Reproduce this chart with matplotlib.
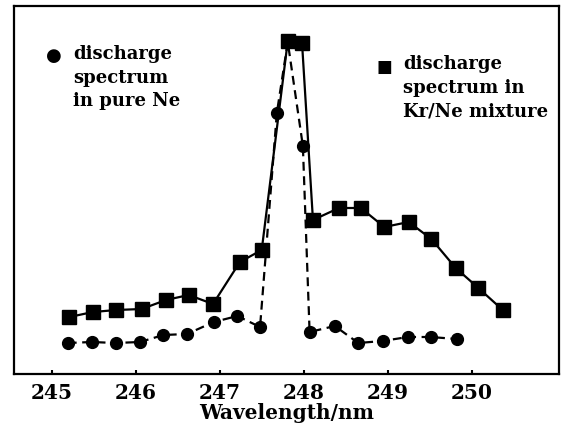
import matplotlib
matplotlib.use("Agg")
import matplotlib.pyplot as plt

# Kr/Ne mixture discharge spectrum (squares, solid line)
kr_wl = [245.21, 245.49, 245.77, 246.07, 246.36, 246.63, 246.92, 247.24, 247.50,
         247.81, 247.98, 248.11, 248.42, 248.68, 248.96, 249.25, 249.52, 249.81,
         250.08, 250.37]
kr_int = [57, 62, 64, 65, 74, 79, 70, 112, 124, 333, 331, 154, 166, 166, 147,
          152, 135, 106, 86, 64]

# pure Ne discharge spectrum (circles, dashed line)
ne_wl = [245.19, 245.48, 245.76, 246.05, 246.33, 246.61, 246.93, 247.21, 247.48,
         247.68, 247.81, 247.99, 248.07, 248.37, 248.65, 248.94, 249.24, 249.51,
         249.82]
ne_int = [31, 32, 31, 32, 39, 40, 52, 58, 47, 261, 332, 228, 42, 48, 31, 33, 37,
          37, 35]

xticks = [245, 246, 247, 248, 249, 250]

fig = plt.figure(figsize=(5.71, 4.39), dpi=100)
ax = fig.add_axes([14/571, 1 - 375/439, 545/571, 368/439])

ax.plot(kr_wl, kr_int, color="black", lw=1.6, ls="-", marker="s", ms=9.5,
        mfc="black", mec="black")
ax.plot(ne_wl, ne_int, color="black", lw=1.6, ls=(0, (4, 2.5)), marker="o", ms=8.5,
        mfc="black", mec="black")

ax.set_xlim(244.55, 251.04)
ax.set_ylim(0, 368)
ax.set_yticks([])
ax.set_xticks(xticks)
ax.set_xticklabels([str(t) for t in xticks], fontfamily="DejaVu Serif",
                   fontweight="bold", fontsize=14.5)
ax.tick_params(axis="x", direction="in", length=3, width=1.5, pad=6)
for s in ax.spines.values():
    s.set_linewidth(1.6)
ax.set_xlabel("Wavelength/nm", fontfamily="DejaVu Serif", fontweight="bold",
              fontsize=14.5, labelpad=0)

# key glyphs and texts
ax.text(0.073, 0.867, "●", transform=ax.transAxes, ha="center", va="center",
        fontsize=13, fontfamily="DejaVu Sans")
ax.text(0.108, 0.896, "discharge\nspectrum\nin pure Ne", transform=ax.transAxes,
        ha="left", va="top", fontfamily="DejaVu Serif", fontweight="bold",
        fontsize=13, linespacing=1.4)
ax.text(0.679, 0.837, "■", transform=ax.transAxes, ha="center", va="center",
        fontsize=12, fontfamily="DejaVu Sans")
ax.text(0.714, 0.869, "discharge\nspectrum in\nKr/Ne mixture", transform=ax.transAxes,
        ha="left", va="top", fontfamily="DejaVu Serif", fontweight="bold",
        fontsize=13, linespacing=1.4)

fig.savefig("out.png", dpi=100)
